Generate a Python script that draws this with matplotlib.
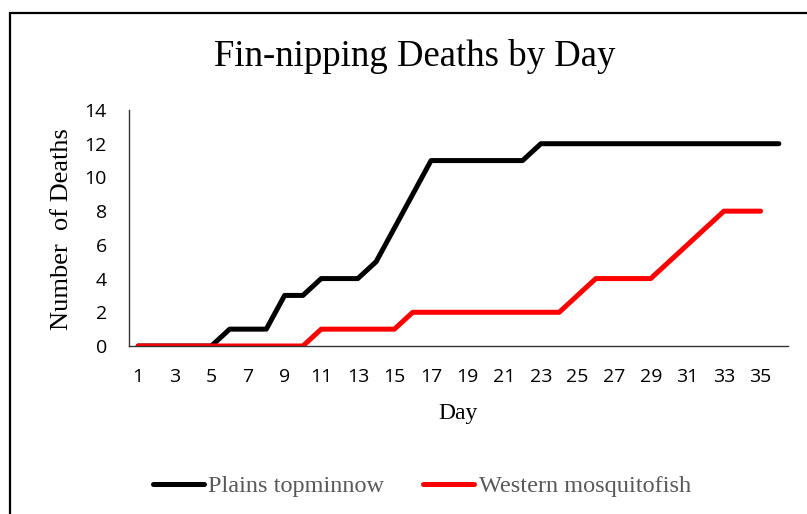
import numpy as np
import matplotlib
matplotlib.use("Agg")
import matplotlib.pyplot as plt
from matplotlib.patches import Rectangle

# data
days_topminnow = list(range(1, 37))
deaths_topminnow = [0, 0, 0, 0, 0, 1, 1, 1, 3, 3, 4, 4, 4, 5, 7, 9, 11, 11,
                    11, 11, 11, 11, 12, 12, 12, 12, 12, 12, 12, 12, 12, 12, 12, 12, 12, 12]
days_mosquito = list(range(1, 36))
deaths_mosquito = [0, 0, 0, 0, 0, 0, 0, 0, 0, 0, 1, 1, 1, 1, 1, 2, 2, 2,
                   2, 2, 2, 2, 2, 2, 3, 4, 4, 4, 4, 5, 6, 7, 8, 8, 8]
xtick_days = list(range(1, 36, 2))
ytick_vals = list(range(0, 15, 2))

serif = "Liberation Serif"
sans = "Open Sans"

W, H = 807, 514
fig = plt.figure(figsize=(W / 100, H / 100), dpi=100)
ax = fig.add_axes([129 / W, 1 - 346 / H, (788 - 129) / W, (346 - 110) / H])

ax.plot(days_topminnow, deaths_topminnow, color="black", lw=3.6,
        solid_capstyle="round", solid_joinstyle="round", label="Plains topminnow")
ax.plot(days_mosquito, deaths_mosquito, color="#ff0000", lw=3.6,
        solid_capstyle="round", solid_joinstyle="round", label="Western mosquitofish")

ax.set_xlim(0.5, 36.5)
ax.set_ylim(0, 14)
ax.set_xticks(xtick_days)
ax.set_yticks(ytick_vals)
ax.tick_params(length=0, labelsize=14)
ax.tick_params(axis="x", pad=16)
ax.tick_params(axis="y", pad=16)
for lab in ax.get_xticklabels() + ax.get_yticklabels():
    lab.set_fontfamily(sans)

for s in ["top", "right"]:
    ax.spines[s].set_visible(False)
for s in ["left", "bottom"]:
    ax.spines[s].set_color("#333333")
    ax.spines[s].set_linewidth(1.0)

fig.text(415 / W, 1 - 56 / H, "Fin-nipping Deaths by Day", ha="center", va="center",
         fontsize=26.5, family=serif)
fig.text(62 / W, 1 - 229 / H, "Number  of Deaths", ha="center", va="center",
         rotation=90, fontsize=19, family=serif)
fig.text(458 / W, 1 - 414 / H, "Day", ha="center", va="center", fontsize=17, family=serif)

leg = fig.legend(loc="center", bbox_to_anchor=(422 / W, 1 - 486 / H), ncol=2,
                 frameon=False, prop={"family": serif, "size": 17.5},
                 handlelength=2.1, handletextpad=0.2, columnspacing=1.6)
for t in leg.get_texts():
    t.set_color("#595959")

fig.add_artist(Rectangle((10 / W, -0.1), 1.0, 1 - 13 / H + 0.1, transform=fig.transFigure,
                         fill=False, lw=1.6, edgecolor="black", clip_on=False))

fig.savefig("out.png", dpi=100)
